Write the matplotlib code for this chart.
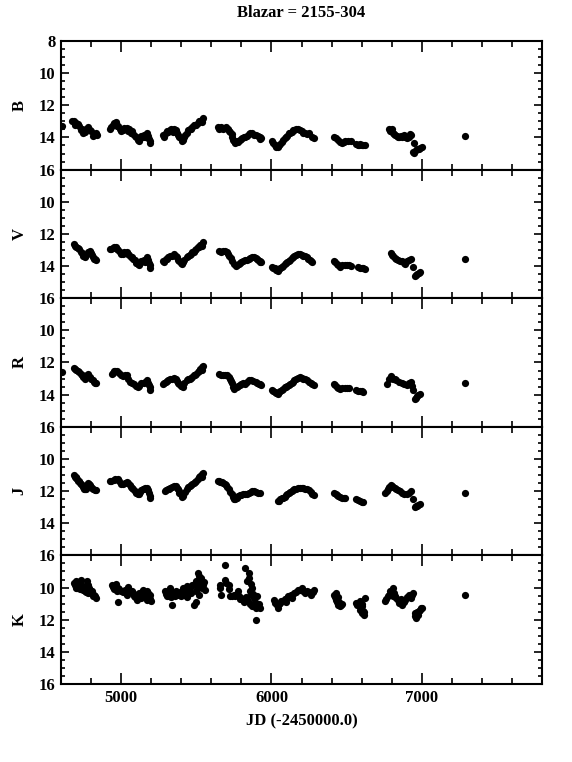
import matplotlib
matplotlib.use("Agg")
import matplotlib.pyplot as plt
from matplotlib.ticker import MultipleLocator

plt.rcParams['font.family'] = ['Liberation Serif', 'DejaVu Serif']
plt.rcParams['font.weight'] = 'bold'

title = "Blazar = 2155-304"
xlabel = "JD (-2450000.0)"

# B band
jd_B = [4607,
        4673, 4685, 4700, 4721, 4740, 4758, 4782, 4800, 4818, 4842,
        4927, 4945, 4964, 4982, 5000, 5036, 5055, 5073, 5090, 5109, 5125, 5145, 5170, 5185, 5194,
        5279, 5297, 5315, 5352, 5370, 5388, 5412, 5436, 5455, 5473, 5490, 5509, 5527, 5545,
        5642, 5667, 5691, 5710, 5727, 5740, 5752, 5770, 5788, 5806, 5824, 5848, 5873, 5897, 5921, 5933,
        6006, 6024, 6042, 6060, 6079, 6097, 6115, 6135, 6152, 6176, 6200, 6224, 6248, 6285,
        6418, 6442, 6467, 6491, 6527,
        6564, 6585, 6600, 6624,
        6782, 6794, 6806, 6825, 6842, 6860, 6879, 6903, 6927, 6951,
        6939, 6964, 6982, 7000,
        7291]
mag_B = [13.3,
         12.95, 13.0, 13.1, 13.3, 13.5, 13.65, 13.35, 13.6, 13.85, 13.85,
         13.5, 13.2, 13.05, 13.3, 13.6, 13.4, 13.5, 13.6, 13.9, 14.15, 14.05, 13.95, 13.75, 14.1, 14.35,
         13.85, 13.75, 13.65, 13.45, 13.7, 13.95, 14.15, 13.7, 13.5, 13.35, 13.2, 13.1, 12.95, 12.8,
         13.35, 13.35, 13.4, 13.5, 13.65, 14.0, 14.25, 14.2, 14.15, 14.05, 13.95, 13.8, 13.75, 13.85, 13.95, 14.05,
         14.25, 14.45, 14.6, 14.4, 14.15, 13.95, 13.75, 13.65, 13.55, 13.45, 13.6, 13.75, 13.75, 14.05,
         13.95, 14.15, 14.35, 14.25, 14.25,
         14.4, 14.45, 14.45, 14.5,
         13.45, 13.6, 13.75, 13.85, 13.95, 13.9, 13.85, 14.05, 13.85, 14.35,
         14.9, 14.8, 14.7, 14.6,
         13.9]
more_B = [(4690, 13.2), (4712, 13.15), (4730, 13.55), (4748, 13.75), (4765, 13.5), (4790, 13.55),
          (4810, 13.9), (4830, 13.75),
          (4935, 13.35), (4955, 13.1), (4970, 13.3), (4990, 13.5), (5010, 13.55), (5020, 13.4),
          (5045, 13.6), (5065, 13.75), (5080, 13.8), (5100, 14.0), (5118, 14.25), (5135, 13.9),
          (5155, 13.85), (5160, 14.0), (5178, 13.9), (5190, 14.2),
          (5285, 14.0), (5305, 13.6), (5325, 13.55), (5335, 13.5), (5345, 13.65), (5362, 13.55),
          (5380, 13.85), (5398, 14.05), (5405, 14.25), (5420, 13.95), (5428, 13.85), (5445, 13.55),
          (5465, 13.45), (5482, 13.25), (5500, 13.2), (5518, 13.0), (5536, 12.9), (5540, 13.05),
          (5650, 13.45), (5680, 13.45), (5700, 13.35), (5718, 13.6), (5735, 13.8), (5746, 14.15),
          (5760, 14.35), (5778, 14.3), (5797, 14.1), (5815, 14.0), (5835, 13.9), (5860, 13.75),
          (5885, 13.85), (5910, 13.9), (5927, 14.1),
          (6012, 14.35), (6030, 14.6), (6050, 14.45), (6070, 14.3), (6088, 14.05), (6106, 13.9),
          (6125, 13.75), (6143, 13.55), (6165, 13.5), (6188, 13.55), (6212, 13.7), (6236, 13.8),
          (6270, 13.95),
          (6430, 14.05), (6455, 14.3), (6480, 14.3), (6510, 14.25),
          (6575, 14.5), (6592, 14.4), (6612, 14.5),
          (6788, 13.6), (6800, 13.5), (6815, 13.8), (6834, 13.9), (6851, 14.0), (6870, 13.95),
          (6890, 13.95), (6915, 13.95), (6920, 13.8),
          (6950, 14.95), (6970, 14.7), (6990, 14.65)]

# V band
jd_V = [4685, 4703, 4721, 4740, 4758, 4794, 4806, 4818, 4835,
        4927, 4945, 4964, 4982, 5000, 5036, 5055, 5073, 5090, 5109, 5125, 5145, 5170, 5185, 5194,
        5279, 5297, 5315, 5352, 5370, 5388, 5412, 5436, 5455, 5473, 5490, 5509, 5527, 5545,
        5654, 5680, 5703, 5720, 5739, 5764, 5782, 5800, 5824, 5848, 5885, 5905, 5921, 5933,
        6006, 6024, 6042, 6060, 6079, 6097, 6115, 6135, 6152, 6188, 6212, 6236, 6255, 6273,
        6418, 6436, 6455, 6491, 6527,
        6576, 6600, 6624,
        6794, 6812, 6830, 6867, 6891, 6927,
        6939,
        6952, 6970, 6988,
        7291]
mag_V = [12.63, 12.8, 12.94, 13.2, 13.46, 13.04, 13.3, 13.56, 13.63,
         12.94, 12.85, 12.8, 13.0, 13.25, 13.15, 13.3, 13.46, 13.65, 13.88, 13.8, 13.67, 13.46, 13.8, 14.13,
         13.67, 13.57, 13.46, 13.25, 13.45, 13.67, 13.77, 13.46, 13.3, 13.15, 13.0, 12.83, 12.7, 12.52,
         13.04, 13.08, 13.15, 13.35, 13.67, 13.98, 13.85, 13.77, 13.65, 13.56, 13.46, 13.55, 13.67, 13.77,
         14.04, 14.15, 14.29, 14.15, 13.98, 13.8, 13.67, 13.5, 13.35, 13.25, 13.35, 13.46, 13.6, 13.77,
         13.67, 13.85, 14.04, 13.92, 13.98,
         14.08, 14.12, 14.19,
         13.21, 13.4, 13.56, 13.67, 13.88, 13.56,
         14.08,
         14.6, 14.5, 14.4,
         13.56]
more_V = [(4692, 12.75), (4712, 12.85), (4730, 13.1), (4748, 13.35), (4765, 13.3), (4780, 13.1),
          (4800, 13.2), (4812, 13.45), (4826, 13.55),
          (4935, 12.95), (4955, 12.8), (4972, 12.95), (4990, 13.15), (5010, 13.25), (5020, 13.1),
          (5045, 13.25), (5065, 13.45), (5080, 13.55), (5100, 13.8), (5118, 13.95), (5135, 13.7),
          (5155, 13.6), (5160, 13.75), (5178, 13.6), (5190, 13.95),
          (5285, 13.75), (5305, 13.55), (5325, 13.4), (5340, 13.35), (5362, 13.35), (5380, 13.6),
          (5398, 13.8), (5405, 13.85), (5420, 13.65), (5445, 13.4), (5465, 13.25), (5482, 13.1),
          (5500, 12.95), (5518, 12.8), (5536, 12.6), (5540, 12.75),
          (5665, 13.1), (5692, 13.05), (5712, 13.25), (5730, 13.5), (5750, 13.85), (5772, 13.95),
          (5790, 13.8), (5812, 13.7), (5836, 13.6), (5860, 13.5), (5872, 13.45), (5895, 13.5),
          (5913, 13.65), (5927, 13.75),
          (6012, 14.1), (6030, 14.25), (6050, 14.2), (6070, 14.05), (6088, 13.9), (6106, 13.75),
          (6125, 13.6), (6143, 13.45), (6165, 13.3), (6176, 13.25), (6200, 13.3), (6224, 13.4),
          (6245, 13.55), (6265, 13.7),
          (6425, 13.75), (6445, 13.95), (6470, 13.95), (6505, 13.95), (6518, 13.95),
          (6588, 14.1), (6612, 14.15),
          (6800, 13.3), (6820, 13.5), (6845, 13.6), (6856, 13.7), (6880, 13.8), (6905, 13.7),
          (6915, 13.6),
          (6960, 14.55), (6980, 14.45)]

# R band
jd_R = [4607,
        4685, 4703, 4721, 4740, 4758, 4782, 4800, 4818, 4835,
        4940, 4955, 4970, 5000, 5036, 5060, 5085, 5109, 5133, 5170, 5185, 5194,
        5279, 5297, 5315, 5352, 5370, 5388, 5412, 5436, 5455, 5473, 5490, 5509, 5527, 5545,
        5654, 5680, 5703, 5727, 5740, 5752, 5770, 5788, 5824, 5861, 5897, 5915, 5933,
        6006, 6024, 6042, 6060, 6079, 6097, 6115, 6135, 6152, 6188, 6212, 6236, 6260, 6285,
        6418, 6436, 6455, 6491, 6515,
        6564, 6590, 6612,
        6770, 6794, 6812, 6830, 6867, 6903, 6927, 6933,
        6939,
        6952, 6970, 6988,
        7291]
mag_R = [12.6,
         12.33, 12.45, 12.6, 12.8, 13.0, 12.74, 13.0, 13.2, 13.28,
         12.7, 12.55, 12.5, 12.8, 12.8, 13.2, 13.35, 13.5, 13.3, 13.1, 13.4, 13.73,
         13.32, 13.2, 13.11, 12.95, 13.15, 13.32, 13.52, 13.11, 13.0, 12.9, 12.75, 12.6, 12.4, 12.19,
         12.74, 12.77, 12.8, 13.0, 13.3, 13.63, 13.5, 13.42, 13.32, 13.07, 13.22, 13.32, 13.42,
         13.73, 13.85, 13.94, 13.8, 13.63, 13.5, 13.42, 13.25, 13.11, 12.9, 13.0, 13.11, 13.25, 13.42,
         13.36, 13.5, 13.67, 13.57, 13.57,
         13.73, 13.78, 13.84,
         13.32, 12.87, 13.0, 13.11, 13.28, 13.42, 13.22, 13.45,
         13.69,
         14.25, 14.1, 13.98,
         13.28]
more_R = [(4692, 12.4), (4712, 12.5), (4730, 12.7), (4748, 12.9), (4765, 12.85), (4775, 12.75),
          (4790, 12.9), (4810, 13.1), (4826, 13.25),
          (4945, 12.65), (4962, 12.5), (4985, 12.65), (5015, 12.85), (5025, 12.75), (5048, 13.0),
          (5072, 13.3), (5097, 13.45), (5120, 13.45), (5150, 13.25), (5160, 13.2), (5178, 13.25),
          (5190, 13.55),
          (5285, 13.3), (5305, 13.15), (5325, 13.05), (5340, 13.0), (5362, 13.05), (5380, 13.25),
          (5398, 13.45), (5405, 13.45), (5420, 13.25), (5445, 13.05), (5465, 12.95), (5482, 12.8),
          (5500, 12.7), (5518, 12.5), (5536, 12.3), (5540, 12.45),
          (5665, 12.75), (5692, 12.8), (5715, 12.9), (5734, 13.15), (5746, 13.5), (5760, 13.55),
          (5779, 13.45), (5800, 13.35), (5812, 13.3), (5840, 13.2), (5850, 13.1), (5880, 13.15),
          (5906, 13.3), (5925, 13.35),
          (6012, 13.8), (6030, 13.9), (6050, 13.85), (6070, 13.7), (6088, 13.55), (6106, 13.45),
          (6125, 13.35), (6143, 13.2), (6165, 13.0), (6176, 12.95), (6200, 12.95), (6224, 13.05),
          (6248, 13.2), (6272, 13.35),
          (6425, 13.4), (6445, 13.6), (6470, 13.6), (6505, 13.57),
          (6575, 13.75), (6600, 13.8),
          (6782, 13.0), (6800, 12.95), (6820, 13.05), (6848, 13.2), (6885, 13.35), (6915, 13.3),
          (6960, 14.2), (6978, 14.05)]

# J band
jd_J = [4685, 4697, 4709, 4721, 4733, 4745, 4758, 4782, 4794, 4806, 4835,
        4927, 4950, 4976, 5000, 5048, 5060, 5073, 5090, 5109, 5125, 5145, 5170, 5185, 5194,
        5291, 5309, 5327, 5364, 5376, 5388, 5412, 5436, 5455, 5473, 5490, 5509, 5527, 5545,
        5642, 5660, 5679, 5697, 5715, 5735, 5752, 5770, 5788, 5824, 5850, 5873, 5897, 5921,
        6042, 6060, 6079, 6097, 6115, 6135, 6152, 6188, 6212, 6236, 6260, 6285,
        6418, 6436, 6455, 6491,
        6564, 6590, 6612,
        6758, 6776, 6794, 6812, 6830, 6867, 6903, 6927,
        6939,
        6952, 6970, 6988,
        7291]
mag_J = [11.02, 11.15, 11.27, 11.4, 11.58, 11.75, 11.89, 11.48, 11.65, 11.79, 11.93,
         11.37, 11.3, 11.23, 11.58, 11.48, 11.65, 11.79, 12.0, 12.2, 12.05, 11.89, 11.79, 12.1, 12.41,
         12.0, 11.9, 11.79, 11.68, 11.9, 12.1, 12.3, 11.85, 11.7, 11.58, 11.42, 11.27, 11.05, 10.86,
         11.37, 11.42, 11.48, 11.65, 11.89, 12.2, 12.51, 12.4, 12.26, 12.2, 12.1, 12.0, 12.05, 12.14,
         12.62, 12.5, 12.41, 12.25, 12.1, 12.0, 11.89, 11.79, 11.82, 11.89, 12.05, 12.26,
         12.1, 12.22, 12.35, 12.45,
         12.51, 12.6, 12.68,
         12.1, 11.85, 11.64, 11.75, 11.89, 12.1, 12.2, 12.0,
         12.51,
         12.97, 12.9, 12.82,
         12.1]
more_J = [(4690, 11.1), (4703, 11.2), (4715, 11.35), (4727, 11.5), (4739, 11.65), (4751, 11.85),
          (4765, 11.85), (4775, 11.6), (4788, 11.55), (4800, 11.75), (4815, 11.85), (4825, 11.95),
          (4935, 11.35), (4962, 11.25), (4988, 11.4), (5012, 11.55), (5025, 11.5), (5036, 11.45),
          (5066, 11.75), (5082, 11.9), (5100, 12.1), (5117, 12.15), (5135, 11.95), (5155, 11.85),
          (5162, 11.8), (5178, 11.95), (5190, 12.3),
          (5300, 11.95), (5318, 11.85), (5340, 11.75), (5352, 11.7), (5370, 11.8), (5382, 12.0),
          (5400, 12.2), (5405, 12.35), (5424, 12.05), (5445, 11.75), (5465, 11.62), (5482, 11.5),
          (5500, 11.35), (5518, 11.15), (5536, 10.95), (5540, 11.1),
          (5650, 11.4), (5670, 11.45), (5688, 11.55), (5706, 11.75), (5725, 12.05), (5744, 12.35),
          (5760, 12.5), (5779, 12.3), (5800, 12.25), (5812, 12.2), (5836, 12.15), (5862, 12.05),
          (5885, 12.0), (5910, 12.1),
          (6048, 12.6), (6070, 12.45), (6088, 12.35), (6106, 12.15), (6125, 12.05), (6143, 11.95),
          (6165, 11.85), (6176, 11.8), (6200, 11.8), (6224, 11.85), (6248, 11.95), (6272, 12.15),
          (6427, 12.15), (6445, 12.3), (6470, 12.4), (6480, 12.45),
          (6577, 12.55), (6600, 12.65),
          (6767, 12.0), (6785, 11.75), (6803, 11.7), (6821, 11.8), (6840, 11.95), (6855, 12.0),
          (6885, 12.15), (6915, 12.1),
          (6960, 12.95), (6978, 12.85)]

# K band
jd_K = [4685, 4697, 4709, 4709, 4721, 4733, 4733, 4745, 4758, 4770, 4782, 4782, 4794, 4806, 4818, 4835, 4745,
        4939, 4964, 4976, 5000, 5024, 5048, 5073, 5097, 5121, 5145, 5170, 5194, 5199, 5133, 5085, 4976, 5036, 5170,
        5291, 5303, 5327, 5352, 5339, 5364, 5388, 5412, 5436, 5448, 5473, 5485, 5497, 5509, 5521, 5533, 5545, 5558, 5521, 5509,
        5691, 5655, 5667, 5691, 5715, 5727, 5752, 5776, 5800, 5824, 5836, 5848, 5873, 5885, 5897, 5909, 5921, 5861, 5848, 5897, 5812, 5873,
        6018, 6042, 6055, 6079, 6103, 6127, 6152, 6176, 6200, 6236, 6261, 6285,
        6418, 6430, 6442, 6455, 6467, 6430,
        6564, 6588, 6600, 6612, 6619, 6624, 6588,
        6758, 6782, 6806, 6818, 6830, 6855, 6867, 6891, 6915, 6939, 6927,
        6952, 6964, 6988, 7000, 6976,
        7291]
mag_K = [9.72, 9.61, 9.78, 10.03, 9.78, 9.51, 9.93, 9.93, 10.24, 9.61, 9.82, 10.34, 10.13, 10.24, 10.44, 10.65, 10.13,
         9.82, 9.78, 10.03, 10.24, 10.13, 9.99, 10.24, 10.44, 10.34, 10.13, 10.24, 10.44, 10.86, 10.65, 10.55, 10.9, 10.44, 10.75,
         10.24, 10.55, 10.03, 10.44, 11.1, 10.24, 10.44, 10.03, 9.93, 10.24, 9.82, 11.06, 9.61, 10.03, 9.3, 9.41, 9.82, 10.13, 10.44, 9.1,
         8.58, 9.82, 10.44, 9.51, 9.82, 10.55, 10.44, 10.24, 10.65, 8.79, 9.61, 9.41, 10.03, 10.65, 11.06, 11.17, 11.27, 10.44, 9.1, 12.0, 10.75, 11.17,
         10.75, 11.27, 10.96, 10.86, 10.65, 10.44, 10.34, 10.13, 10.03, 10.19, 10.44, 10.13,
         10.44, 10.75, 11.06, 11.17, 11.02, 10.34,
         10.96, 10.86, 11.17, 11.48, 11.69, 10.65, 11.37,
         10.86, 10.44, 10.03, 10.34, 10.65, 10.86, 11.06, 10.75, 10.44, 10.34, 10.65,
         11.58, 11.89, 11.37, 11.27, 11.69,
         10.48]
more_K = [(4690, 9.85), (4700, 10.0), (4715, 9.9), (4727, 10.1), (4740, 10.0), (4752, 10.1),
          (4763, 10.3), (4776, 10.2), (4788, 10.0), (4800, 10.35), (4812, 10.5), (4825, 10.55),
          (4700, 9.75), (4765, 10.05),
          (4945, 9.95), (4955, 10.1), (4970, 10.2), (4988, 10.1), (5012, 10.3), (5030, 10.35),
          (5042, 10.2), (5060, 10.3), (5080, 10.35), (5090, 10.6), (5110, 10.55), (5127, 10.5),
          (5140, 10.3), (5158, 10.5), (5180, 10.35), (5188, 10.6), (5195, 10.7), (5105, 10.8),
          (5297, 10.4), (5315, 10.2), (5320, 10.5), (5335, 10.6), (5345, 10.3), (5358, 10.55),
          (5375, 10.35), (5395, 10.3), (5400, 10.55), (5420, 10.2), (5428, 10.45), (5458, 10.05),
          (5465, 10.35), (5490, 9.85), (5500, 10.2), (5515, 9.7), (5527, 9.9), (5540, 10.0),
          (5550, 9.65), (5500, 10.9), (5440, 10.6),
          (5660, 10.0), (5700, 9.7), (5720, 10.1), (5740, 10.5), (5760, 10.55), (5785, 10.5),
          (5790, 10.7), (5820, 10.9), (5830, 10.6), (5855, 10.2), (5866, 9.8), (5880, 10.4),
          (5890, 10.9), (5905, 10.5), (5915, 11.05), (5845, 10.85), (5860, 11.0), (5900, 11.3),
          (6025, 10.95), (6035, 11.1), (6048, 11.05), (6066, 10.85), (6090, 10.7), (6112, 10.55),
          (6140, 10.45), (6163, 10.25), (6188, 10.15), (6212, 10.2), (6225, 10.35), (6248, 10.3),
          (6275, 10.25), (6095, 10.9), (6135, 10.65),
          (6423, 10.6), (6436, 10.9), (6448, 10.9), (6460, 11.1), (6445, 10.6),
          (6570, 11.1), (6580, 11.0), (6595, 11.3), (6605, 11.0), (6615, 11.55), (6605, 11.6),
          (6765, 10.7), (6775, 10.55), (6790, 10.2), (6800, 10.3), (6812, 10.5), (6825, 10.5),
          (6840, 10.75), (6848, 10.95), (6860, 10.7), (6880, 10.9), (6900, 10.6), (6920, 10.55),
          (6932, 10.45),
          (6958, 11.75), (6970, 11.5), (6982, 11.45), (6994, 11.3)]

bands = [("B", jd_B, mag_B, more_B), ("V", jd_V, mag_V, more_V), ("R", jd_R, mag_R, more_R),
         ("J", jd_J, mag_J, more_J), ("K", jd_K, mag_K, more_K)]

fig = plt.figure(figsize=(5.72, 7.62), dpi=100)
left, right = 61 / 572, 542 / 572
top, bottom = 1 - 41 / 762, 1 - 684 / 762
h = (top - bottom) / 5

for i, (name, jd, mag, more) in enumerate(bands):
    ax = fig.add_axes([left, top - (i + 1) * h, right - left, h])
    x = list(jd) + [p[0] for p in more]
    y = list(mag) + [p[1] for p in more]
    ax.plot(x, y, 'o', color='black', ms=5.2, mew=0)
    ax.set_xlim(4600, 7800)
    ax.set_ylim(16, 8)
    ax.xaxis.set_major_locator(MultipleLocator(1000))
    ax.xaxis.set_minor_locator(MultipleLocator(200))
    ax.yaxis.set_minor_locator(MultipleLocator(0.5))
    ax.set_yticks([8, 10, 12, 14, 16] if i == 0 else [10, 12, 14, 16])
    ax.tick_params(which='both', direction='in', top=True, right=True, width=1.2,
                   labelsize=12, pad=4)
    ax.tick_params(axis='x', which='major', length=8)
    ax.tick_params(axis='x', which='minor', length=4)
    ax.tick_params(axis='y', which='major', length=6)
    ax.tick_params(axis='y', which='minor', length=3)
    for sp in ax.spines.values():
        sp.set_linewidth(1.5)
    ax.set_ylabel(name, fontsize=12, fontweight='bold', labelpad=8)
    if i < 4:
        ax.tick_params(labelbottom=False)
    else:
        ax.set_xlabel(xlabel, fontsize=12, fontweight='bold', labelpad=6)
    if i == 0:
        ax.set_title(title, fontsize=12, fontweight='bold', pad=17)

fig.savefig("out.png", dpi=100)
